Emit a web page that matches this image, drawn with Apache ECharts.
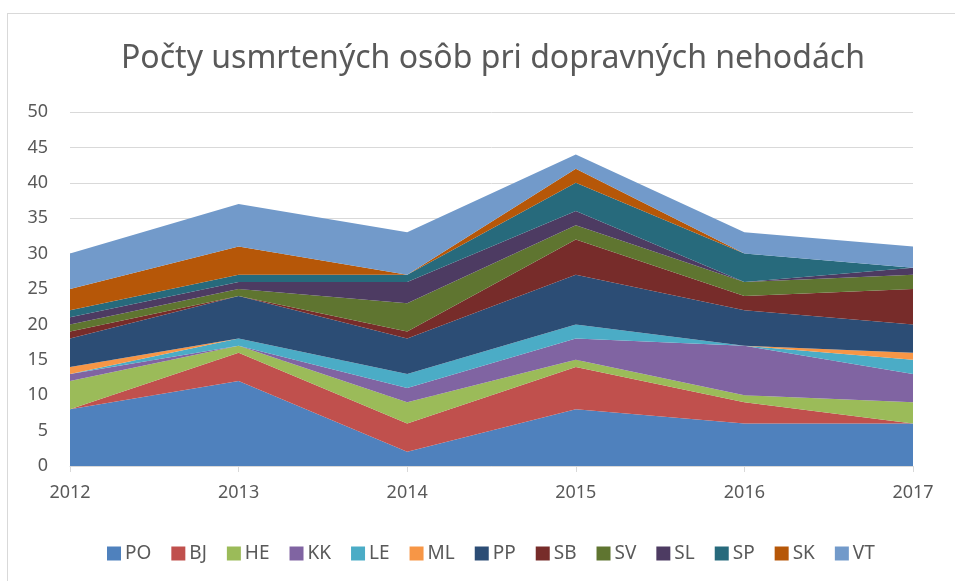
<!DOCTYPE html>
<html>
<head>
<meta charset="utf-8">
<script src="https://cdn.jsdelivr.net/npm/echarts@6/dist/echarts.min.js"></script>
<style>
  html, body { margin: 0; padding: 0; background: #fff; }
  #frame { position: absolute; left: 7px; top: 13px; width: 960px; height: 580px; border: 1px solid #d9d9d9; }
  #chart { position: absolute; left: 0; top: 0; width: 955px; height: 581px; }
</style>
</head>
<body>
<div id="frame"></div>
<div id="chart"></div>
<script>
// roky
var years = ['2012', '2013', '2014', '2015', '2016', '2017'];

// usmrtené osoby podľa okresov
var PO = [8, 12, 2, 8, 6, 6];
var BJ = [0, 4, 4, 6, 3, 0];
var HE = [4, 1, 3, 1, 1, 3];
var KK = [1, 0, 2, 3, 7, 4];
var LE = [0, 1, 2, 2, 0, 2];
var ML = [1, 0, 0, 0, 0, 1];
var PP = [4, 6, 5, 7, 5, 4];
var SB = [1, 0, 1, 5, 2, 5];
var SV = [1, 1, 4, 2, 2, 2];
var SL = [1, 1, 3, 2, 0, 1];
var SP = [1, 1, 1, 4, 4, 0];
var SK = [3, 4, 0, 2, 0, 0];
var VT = [5, 6, 6, 2, 3, 3];

var names = ['PO', 'BJ', 'HE', 'KK', 'LE', 'ML', 'PP', 'SB', 'SV', 'SL', 'SP', 'SK', 'VT'];
var values = [PO, BJ, HE, KK, LE, ML, PP, SB, SV, SL, SP, SK, VT];
var colors = ['#4F81BD', '#C0504D', '#9BBB59', '#8064A2', '#4BACC6', '#F79646',
  '#2C4D75', '#772C2A', '#5F7530', '#4D3B62', '#276A7C', '#B65708', '#729ACA'];

var font = 'Noto Sans, sans-serif';

var chart = echarts.init(document.getElementById('chart'));

var series = names.map(function (n, i) {
  return {
    name: n,
    type: 'line',
    stack: 'total',
    data: values[i],
    symbol: 'none',
    lineStyle: { width: 0 },
    areaStyle: { color: colors[i], opacity: 1 },
    itemStyle: { color: colors[i] }
  };
});

chart.setOption({
  animation: false,
  title: {
    text: 'Počty usmrtených osôb pri dopravných nehodách',
    left: 116,
    top: 38,
    textStyle: { fontFamily: font, fontSize: 32, fontWeight: 'normal', color: '#595959' }
  },
  legend: {
    data: names,
    left: 102,
    top: 539,
    icon: 'rect',
    itemWidth: 14,
    itemHeight: 14,
    itemGap: 20,
    textStyle: { fontFamily: font, fontSize: 19, color: '#595959', padding: [0, 0, 0, -1] }
  },
  grid: { left: 70, right: 42, top: 112, bottom: 115 },
  xAxis: {
    type: 'category',
    data: years,
    boundaryGap: false,
    axisLine: { lineStyle: { color: '#d9d9d9' } },
    axisTick: { show: true, length: 6, lineStyle: { color: '#d9d9d9' } },
    axisLabel: { fontFamily: font, fontSize: 18, color: '#595959', margin: 18 }
  },
  yAxis: {
    type: 'value',
    min: 0,
    max: 50,
    interval: 5,
    axisLine: { show: false },
    axisTick: { show: false },
    axisLabel: { fontFamily: font, fontSize: 18, color: '#595959', margin: 22 },
    splitLine: { lineStyle: { color: '#d9d9d9' } }
  },
  series: series
});
</script>
</body>
</html>
